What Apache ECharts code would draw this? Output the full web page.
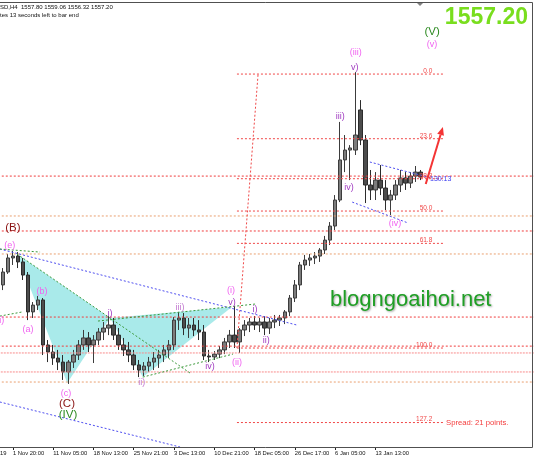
<!DOCTYPE html>
<html><head><meta charset="utf-8">
<script src="https://cdn.jsdelivr.net/npm/echarts@6/dist/echarts.min.js"></script>
<style>html,body{margin:0;padding:0;background:#fff;}#c{width:534px;height:462px;}</style>
</head><body><div id="c"></div>
<script>
// ---- data (H4 XAUUSD, each candle = 4 H4 bars) ----
const tickLabels = ['1 Nov 20:00','11 Nov 05:00','18 Nov 13:00','25 Nov 21:00','3 Dec 13:00','10 Dec 21:00','18 Dec 05:00','26 Dec 17:00','6 Jan 05:00','13 Jan 13:00'];
const tickIndex = [2,10,18,26,34,42,50,58,66,74];
// [open, close, low, high]
const candles = [
[1500.4,1507.2,1497.7,1509.3],[1507.2,1514.6,1506.2,1516.7],[1514.6,1515.6,1510.9,1518.3],[1515.6,1512.5,1509.3,1517.7],
[1512.5,1505.6,1503.0,1514.6],[1505.6,1486.2,1481.9,1507.2],[1486.2,1489.8,1483.0,1491.4],[1489.8,1492.5,1487.2,1494.6],
[1492.5,1468.8,1463.5,1493.5],[1468.8,1465.1,1459.8,1471.4],[1465.1,1461.9,1458.3,1468.8],[1461.9,1459.8,1455.6,1466.2],
[1459.8,1454.6,1450.4,1463.5],[1454.6,1459.8,1448.3,1460.9],[1459.8,1463.5,1456.7,1466.2],[1463.5,1468.8,1460.9,1471.4],
[1468.8,1472.5,1466.2,1476.7],[1472.5,1468.8,1465.1,1475.6],[1468.8,1471.4,1459.3,1474.0],[1471.4,1475.6,1468.8,1477.7],
[1475.6,1477.7,1471.4,1480.9],[1477.7,1479.3,1474.0,1484.0],[1479.3,1474.0,1471.4,1483.0],[1474.0,1468.8,1466.2,1477.7],
[1468.8,1466.2,1463.0,1472.5],[1466.2,1463.5,1459.8,1470.4],[1463.5,1458.3,1455.6,1466.2],[1458.3,1455.6,1451.9,1460.9],
[1455.6,1457.7,1452.5,1459.8],[1457.7,1459.8,1454.6,1462.5],[1459.8,1461.9,1455.6,1465.1],[1461.9,1463.5,1456.7,1466.2],
[1463.5,1466.2,1459.8,1468.8],[1466.2,1468.8,1461.9,1471.4],[1468.8,1481.9,1466.2,1483.5],[1481.9,1483.0,1476.7,1486.2],
[1483.0,1477.7,1474.0,1485.6],[1477.7,1479.3,1472.5,1483.0],[1479.3,1476.7,1473.5,1483.0],[1476.7,1475.6,1471.4,1481.9],
[1475.6,1463.0,1460.9,1479.3],[1463.0,1462.5,1459.8,1466.2],[1462.5,1464.0,1460.9,1465.6],[1464.0,1466.2,1461.9,1468.2],
[1466.2,1470.4,1464.0,1472.5],[1470.4,1474.0,1467.2,1476.7],[1474.0,1470.4,1467.2,1489.3],[1470.4,1476.7,1464.6,1477.7],
[1476.7,1479.3,1473.5,1481.9],[1479.3,1480.9,1475.6,1483.0],[1480.9,1479.3,1476.7,1484.0],[1479.3,1480.9,1475.6,1483.0],
[1480.9,1477.7,1474.0,1484.0],[1477.7,1480.9,1474.6,1483.0],[1480.9,1481.9,1477.7,1484.6],[1481.9,1483.0,1478.8,1484.6],
[1483.0,1486.2,1479.8,1487.2],[1486.2,1493.5,1484.0,1495.1],[1493.5,1500.4,1491.4,1503.0],[1500.4,1510.9,1497.7,1512.5],
[1510.9,1513.5,1508.3,1516.2],[1513.5,1514.6,1510.4,1516.7],[1514.6,1515.6,1511.4,1517.7],[1515.6,1518.8,1512.5,1519.8],
[1518.8,1524.0,1516.7,1526.2],[1524.0,1531.4,1521.4,1533.5],[1531.4,1545.1,1529.3,1547.7],[1545.1,1566.2,1544.0,1586.2],
[1566.2,1571.4,1559.8,1579.3],[1571.4,1572.5,1555.6,1574.0],[1571.4,1579.3,1568.8,1612.4],[1592.5,1576.7,1574.0,1597.7],
[1576.7,1553.0,1543.5,1579.3],[1553.0,1550.4,1545.1,1560.9],[1550.4,1555.6,1545.1,1559.8],[1555.6,1551.4,1547.7,1563.5],
[1551.4,1545.1,1539.8,1555.6],[1545.1,1547.7,1537.2,1550.4],[1547.7,1553.0,1545.1,1555.6],[1553.0,1556.7,1549.3,1560.9],
[1556.7,1554.0,1550.4,1559.8],[1554.0,1557.7,1551.4,1559.8],[1557.7,1559.8,1554.6,1563.0],[1559.8,1557.2,1555.6,1560.9]
];
const lastPrice = '1557.20';
// Fibonacci anchors (price) and levels
const fibHigh = 1611.4, fibLow = 1467.2;
const fibLevels = [0, 23.6, 38.2, 50, 61.8, 100, 127.2];
const fibStartIdx = 46.5, fibEndIdx = 87.8, fibTopIdx = 50.7;
// horizontal support/resistance lines (price)
const redLines = [1557.7, 1528.8, 1483.5, 1468.2];
const pinkLines = [1464.6, 1454.6];
const orangeLines = [1536.7, 1516.7, 1449.3];
// trendlines: [idx1, price1, idx2, price2]
const blueLines = [[-0.6,1519.3,58.4,1479.3],[-0.6,1438.8,35.2,1415.1],[72.9,1565.1,85.1,1556.7],[69.4,1544.0,80.5,1533.0]];
const greenLines = [[-0.6,1519.3,7.4,1517.7],[2.8,1516.7,37.2,1454.0],[-0.6,1484.0,3.9,1486.2],[27.8,1451.9,45.7,1464.0],[18.9,1481.4,50.3,1490.4]];
// harmonic triangles: [x1,p1,x2,p2,x3,p3]
const harmonic = [[2.8,1516.7,12.8,1448.8,21.3,1483.0],[21.3,1483.0,27.8,1451.9,45.5,1488.8]];
const arrowLine = [[84.0,1553.5,87.4,1583.5]];
// wave labels
const waveText = ['(B)','(e)','(a)','(b)','(c)','(C)','(IV)','i)','i)','ii)','iii)','iv)','(i)','v)','(ii)','i)','ii)','(iii)','v)','iii)','iv)','(iv)','(V)','(v)'];
const waveIdx  = [2.0,1.4,5.0,7.8,12.55,12.75,12.95,-0.2,21.3,27.6,35.2,41.15,45.3,45.5,46.5,50.1,52.3,70.1,69.9,67.0,68.75,77.9,85.25,85.25];
const wavePrice= [1530.4,1521.4,1477.2,1497.2,1443.5,1437.7,1431.9,1481.9,1485.6,1448.8,1488.3,1457.2,1497.7,1491.4,1459.8,1487.7,1470.9,1623.0,1615.1,1589.3,1551.9,1532.5,1633.5,1626.7];
const waveKind = ['B','m','m','m','m','B','G','m','p','l','l','p','m','p','m','p','p','m','p','p','p','m','G','m'];

// ---- chart ----
const FONT = '"Liberation Sans", Arial, sans-serif';
const N = 106;
const cats = Array.from({length: N}, (_, i) => String(i));
const labelAt = i => { const k = tickIndex.indexOf(i); return k >= 0 ? tickLabels[k] : ''; };
const kindStyle = {
  m: {color: '#f062f0', size: 9},
  p: {color: '#a03cc0', size: 9},
  l: {color: '#c27ad0', size: 9},
  B: {color: '#8b1414', size: 11.5},
  G: {color: '#2e8b22', size: 11.5}
};

function segSeries(data, color, dash, width, z) {
  return {type: 'custom', xAxisIndex: 1, yAxisIndex: 0, silent: true, animation: false, z: z || 3, data,
    encode: {x: [0, 2], y: [1, 3]},
    renderItem: (params, api) => {
      const a = api.coord([api.value(0), api.value(1)]);
      const b = api.coord([api.value(2), api.value(3)]);
      return {type: 'line', shape: {x1: a[0], y1: a[1], x2: b[0], y2: b[1]},
        style: {stroke: color, lineWidth: width, lineDash: dash, fill: null}};
    }};
}
function textSeries(xs, ps, texts, styleFn, z) {
  return {type: 'custom', xAxisIndex: 1, yAxisIndex: 0, silent: true, animation: false, z: z || 10,
    data: xs.map((x, i) => [x, ps[i]]), encode: {x: 0, y: 1},
    renderItem: (params, api) => {
      const p = api.coord([api.value(0), api.value(1)]);
      const s = styleFn(params.dataIndex);
      return {type: 'text', x: p[0] + (s.dx || 0), y: p[1] + (s.dy || 0),
        style: {text: texts[params.dataIndex], fill: s.color, fontSize: s.size, fontFamily: FONT,
          fontWeight: s.weight || 'normal', align: s.align || 'center', verticalAlign: 'middle'}};
    }};
}
const hl = (arr) => arr.map(p => [-1, p, N, p]);
const fibPrices = fibLevels.map(l => fibHigh - l / 100 * (fibHigh - fibLow));

const chart = echarts.init(document.getElementById('c'));
chart.setOption({
  animation: false,
  backgroundColor: '#ffffff',
  grid: {left: 0.3, right: 0, top: 3, bottom: 15},
  xAxis: [
    {type: 'category', data: cats, boundaryGap: true,
      axisLine: {show: false},
      axisTick: {show: true, alignWithLabel: true, length: 3, interval: (i) => tickIndex.includes(i), lineStyle: {color: '#222'}},
      axisLabel: {interval: (i) => tickIndex.includes(i), formatter: (v, i) => labelAt(Number(v)), align: 'left', margin: 3,
        fontSize: 5.8, color: '#111', fontFamily: FONT},
      splitLine: {show: false}},
    {type: 'value', min: -0.5, max: N - 0.5, show: false, splitLine: {show: false}}
  ],
  yAxis: {type: 'value', min: 1415.1, max: 1648.8, show: false, splitLine: {show: false}},
  series: [
    {type: 'custom', xAxisIndex: 1, yAxisIndex: 0, silent: true, z: 1, data: harmonic,
      encode: {x: [0, 2, 4], y: [1, 3, 5]},
      renderItem: (params, api) => {
        const pts = [0, 2, 4].map(k => api.coord([api.value(k), api.value(k + 1)]));
        return {type: 'polygon', shape: {points: pts}, style: {fill: '#a9eaea'}};
      }},
    {type: 'candlestick', xAxisIndex: 0, yAxisIndex: 0, data: candles, barWidth: 4, z: 2, silent: true,
      itemStyle: {color: '#7c7c7c', color0: '#4c4c4c', borderColor: '#3c3c3c', borderColor0: '#2c2c2c', borderWidth: 1}},
    segSeries(hl(redLines), '#f03c3c', [2, 2], 1, 3),
    segSeries(hl(pinkLines), '#f88c8c', [2, 1], 1, 3),
    segSeries(hl(orangeLines), '#eaa070', [2, 2], 1, 3),
    segSeries(fibPrices.map(p => [fibStartIdx, p, fibEndIdx, p]), '#f04848', [2, 2], 1, 3),
    segSeries([[fibStartIdx, fibLow, fibTopIdx, fibHigh]], '#f04848', [2, 2], 1, 3),
    segSeries(blueLines, '#4d4df0', [2, 2], 1, 4),
    segSeries(greenLines, '#3c9a3c', [2, 2], 1, 4),
    {type: 'custom', xAxisIndex: 1, yAxisIndex: 0, silent: true, z: 6, data: arrowLine,
      encode: {x: [0, 2], y: [1, 3]},
      renderItem: (params, api) => {
        const a = api.coord([api.value(0), api.value(1)]);
        const b = api.coord([api.value(2), api.value(3)]);
        const dx = b[0] - a[0], dy = b[1] - a[1], L = Math.hypot(dx, dy), ux = dx / L, uy = dy / L;
        const hlen = 8, hw = 3.5, bx = b[0] - ux * hlen, by = b[1] - uy * hlen;
        return {type: 'group', children: [
          {type: 'line', shape: {x1: a[0], y1: a[1], x2: bx, y2: by}, style: {stroke: '#f43434', lineWidth: 2}},
          {type: 'polygon', shape: {points: [[b[0], b[1]], [bx - uy * hw, by + ux * hw], [bx + uy * hw, by - ux * hw]]}, style: {fill: '#f43434'}}
        ]};
      }},
    textSeries(fibLevels.map(() => 85.3), fibPrices, fibLevels.map(l => l.toFixed(1)),
      () => ({color: '#f04848', size: 6.5, align: 'right', dy: -3}), 8),
    textSeries(waveIdx, wavePrice, waveText, (i) => kindStyle[waveKind[i]], 10)
  ],
  graphic: [
    {type: 'rect', silent: true, z: 100, shape: {x: -2, y: 2.5, width: 534.5, height: 445}, style: {fill: null, stroke: '#505050', lineWidth: 1}},
    {type: 'polygon', silent: true, z: 100, shape: {points: [[417, 3], [423, 3], [420, 6]]}, style: {fill: '#808080'}},
    {type: 'text', silent: true, z: 100, x: 0, y: 7.5, style: {text: 'SD,H4  1557.80 1559.06 1556.32 1557.20', fill: '#111', fontSize: 6, fontFamily: FONT, verticalAlign: 'middle'}},
    {type: 'text', silent: true, z: 100, x: 0, y: 15.5, style: {text: 'tes 13 seconds left to bar end', fill: '#111', fontSize: 6, fontFamily: FONT, verticalAlign: 'middle'}},
    {type: 'text', silent: true, z: 100, x: 528, y: 17.5, style: {text: lastPrice, fill: '#79de1e', fontSize: 23, fontWeight: 'bold', fontFamily: FONT, align: 'right', verticalAlign: 'middle'}},
    {type: 'text', silent: true, z: 100, x: 330, y: 300, style: {text: 'blogngoaihoi.net', fill: '#1f9f25', fontSize: 22, fontFamily: FONT, verticalAlign: 'middle', textShadowColor: 'rgba(0,0,0,0.35)', textShadowBlur: 2, textShadowOffsetX: 1, textShadowOffsetY: 1}},
    {type: 'text', silent: true, z: 100, x: 446, y: 423, style: {text: 'Spread: 21 points.', fill: '#f43c3c', fontSize: 7.7, fontFamily: FONT, verticalAlign: 'middle'}},
    {type: 'text', silent: true, z: 100, x: 430, y: 179, style: {text: '130:13', fill: '#3a3af0', fontSize: 7, fontFamily: FONT, verticalAlign: 'middle'}},
    {type: 'text', silent: true, z: 100, x: 0, y: 453, style: {text: '19', fill: '#111', fontSize: 5.8, fontFamily: FONT, verticalAlign: 'middle'}}
  ]
});
</script>
</body></html>
